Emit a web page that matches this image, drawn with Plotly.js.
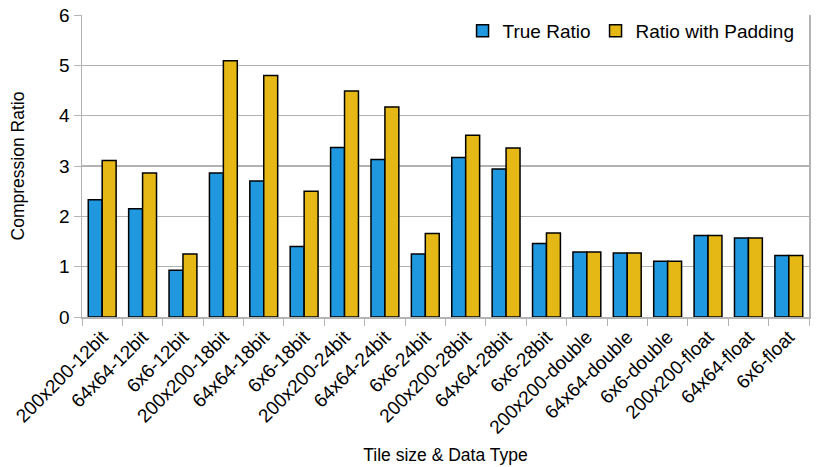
<!DOCTYPE html>
<html>
<head>
<meta charset="utf-8">
<script src="https://cdn.plot.ly/plotly-3.0.1.min.js"></script>
<style>
  html, body { margin: 0; padding: 0; background: #fff; }
  #chart { width: 830px; height: 467px; }
</style>
</head>
<body>
<div id="chart"></div>
<script>
  // ── Datos ────────────────────────────────────────────────────────────────
  const categories = [
    '200x200-12bit', '64x64-12bit', '6x6-12bit',
    '200x200-18bit', '64x64-18bit', '6x6-18bit',
    '200x200-24bit', '64x64-24bit', '6x6-24bit',
    '200x200-28bit', '64x64-28bit', '6x6-28bit',
    '200x200-double', '64x64-double', '6x6-double',
    '200x200-float', '64x64-float', '6x6-float',
  ];
  const trueRatio = [
    2.33, 2.15, 0.93,
    2.86, 2.70, 1.40,
    3.37, 3.13, 1.25,
    3.17, 2.94, 1.46,
    1.29, 1.27, 1.11,
    1.62, 1.57, 1.22,
  ];
  const paddedRatio = [
    3.11, 2.86, 1.25,
    5.09, 4.80, 2.50,
    4.49, 4.17, 1.66,
    3.61, 3.36, 1.67,
    1.29, 1.27, 1.11,
    1.62, 1.57, 1.22,
  ];

  const C = {
    blue:   '#1f98e0',
    yellow: '#e6b816',
    grid:   '#b3b3b3',
    text:   '#000000',
  };
  const FONT = 'Liberation Sans, Arial, sans-serif';

  function mkBar(name, y, color) {
    return {
      type: 'bar', name, x: categories, y,
      marker: { color, line: { color: '#000', width: 1.5 } },
    };
  }

  const traces = [
    mkBar('True Ratio', trueRatio, C.blue),
    mkBar('Ratio with Padding', paddedRatio, C.yellow),
  ];

  const layout = {
    width: 830, height: 467,
    margin: { l: 82, r: 21, t: 15, b: 150 },
    paper_bgcolor: '#fff', plot_bgcolor: '#fff',
    font: { family: FONT, size: 19, color: C.text },
    barmode: 'group', bargap: 0.31, bargroupgap: 0,
    showlegend: true,
    legend: {
      orientation: 'h', x: 0.987, xanchor: 'right', y: 1.01, yanchor: 'top',
      bgcolor: 'rgba(0,0,0,0)', font: { size: 19 },
      traceorder: 'normal', itemwidth: 30,
    },
    xaxis: {
      type: 'category', tickangle: -45,
      tickson: 'boundaries', ticks: 'outside', ticklen: 7, tickcolor: C.grid,
      showgrid: false, showline: true, linecolor: C.grid, linewidth: 1.5,
      tickfont: { size: 19 },
      title: { text: 'Tile size & Data Type', font: { size: 17.5 }, standoff: 12 },
    },
    yaxis: {
      range: [0, 6], dtick: 1,
      ticks: 'outside', ticklen: 7, tickcolor: C.grid,
      showgrid: true, gridcolor: C.grid, gridwidth: 1.5,
      showline: true, linecolor: C.grid, linewidth: 1.5, mirror: true,
      zeroline: false, tickfont: { size: 19 },
      title: { text: 'Compression Ratio', font: { size: 17.5 }, standoff: 30 },
    },
    hovermode: false,
  };

  Plotly.newPlot('chart', traces, layout, { displayModeBar: false, staticPlot: true });
</script>
</body>
</html>
